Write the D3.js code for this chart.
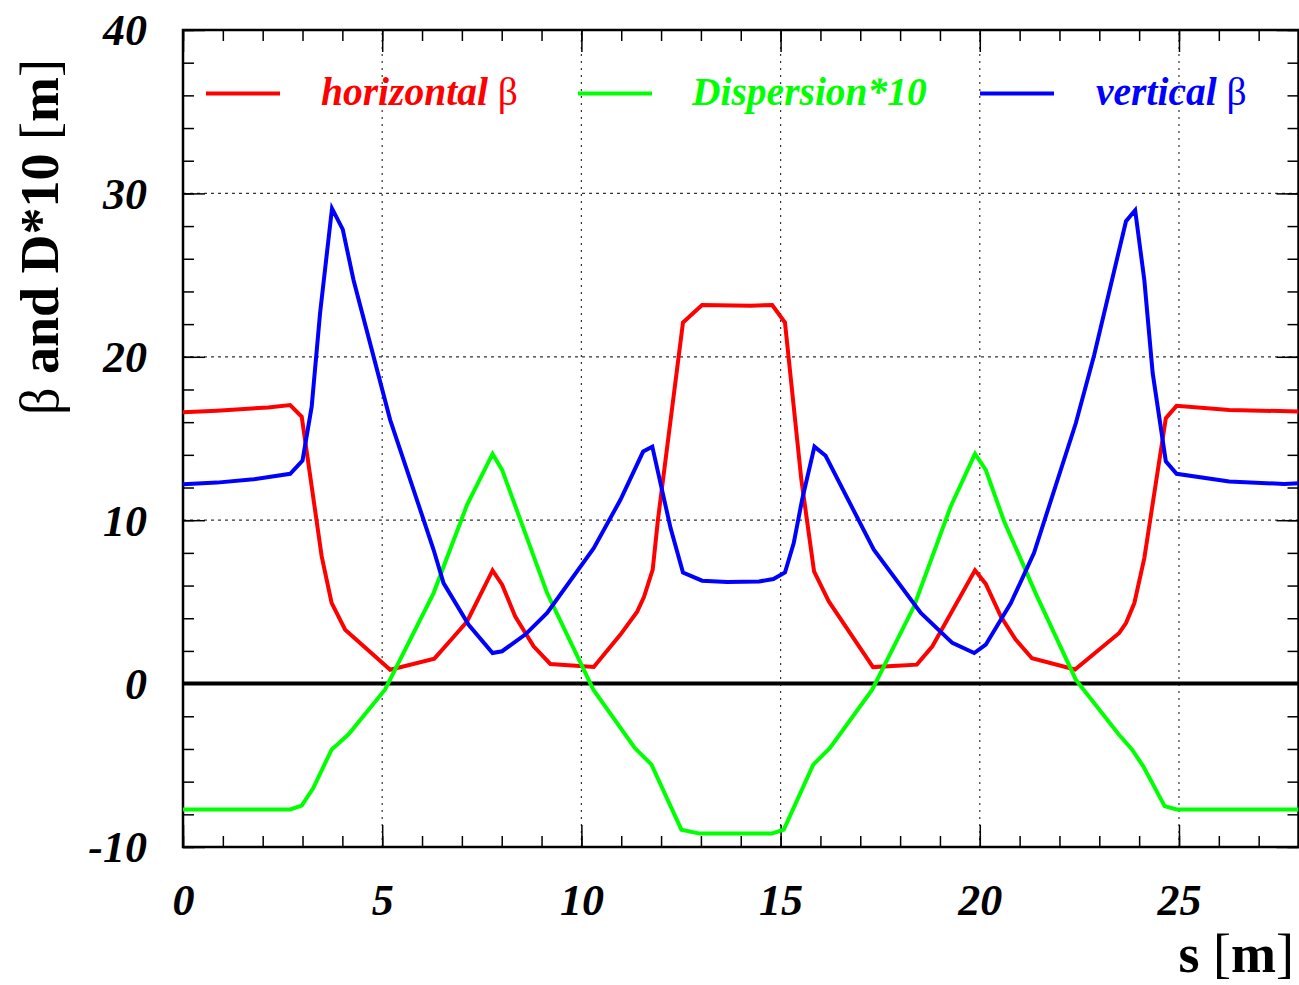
<!DOCTYPE html>
<html>
<head>
<meta charset="utf-8">
<script src="https://cdn.jsdelivr.net/npm/d3@7"></script>
<style>
  html, body { margin: 0; padding: 0; background: #fff; }
  svg { display: block; }
</style>
</head>
<body>
<svg id="chart" width="1299" height="985"></svg>
<script>
// ---------------- data ----------------
const sH = [0, 0.85, 2.14, 2.69, 2.98, 3.48, 3.73, 4.07, 5.2, 6.31, 6.79, 7.13, 7.77, 8.01, 8.34, 8.8, 9.22, 10.31, 10.98, 11.4, 11.57, 11.79, 11.92, 12.55, 13.03, 14.25, 14.79, 15.11, 15.52, 15.84, 16.21, 17.32, 18.42, 18.81, 19.88, 20.15, 20.53, 20.9, 21.31, 22.39, 23.5, 23.67, 23.88, 24.13, 24.67, 24.94, 26.26, 28.0];
const betaH = [16.6, 16.7, 16.9, 17.05, 16.33, 7.8, 4.94, 3.3, 0.85, 1.53, 2.85, 3.8, 6.93, 6.05, 4.1, 2.28, 1.2, 1.02, 3.0, 4.4, 5.3, 6.97, 10.0, 22.1, 23.17, 23.13, 23.17, 22.1, 12.5, 6.87, 5.03, 1.01, 1.16, 2.28, 6.93, 6.1, 4.1, 2.7, 1.55, 0.86, 3.1, 3.7, 4.93, 7.68, 16.24, 17.0, 16.75, 16.65];

const sV = [0, 0.85, 1.77, 2.69, 3.0, 3.23, 3.44, 3.74, 4.01, 4.28, 5.2, 6.29, 6.54, 7.17, 7.77, 8.01, 8.59, 9.14, 10.31, 10.98, 11.55, 11.78, 12.24, 12.55, 13.03, 13.66, 14.46, 14.82, 15.11, 15.33, 15.54, 15.85, 16.13, 17.34, 18.52, 19.31, 19.86, 20.15, 20.78, 21.07, 21.36, 22.41, 22.87, 23.67, 23.9, 24.13, 24.34, 24.67, 24.94, 26.26, 27.64, 28.0];
const betaV = [12.2, 12.3, 12.5, 12.84, 13.65, 16.95, 22.66, 29.08, 27.8, 24.7, 16.14, 8.19, 6.15, 3.6, 1.87, 1.98, 3.0, 4.32, 8.29, 11.25, 14.2, 14.5, 9.5, 6.8, 6.3, 6.22, 6.25, 6.4, 6.8, 8.6, 11.25, 14.5, 13.94, 8.19, 4.32, 2.49, 1.87, 2.38, 4.93, 6.46, 7.99, 15.93, 20.1, 28.3, 28.97, 24.7, 19.0, 13.6, 12.84, 12.37, 12.22, 12.26];

const sD = [0, 2.69, 2.98, 3.27, 3.73, 4.15, 5.07, 6.29, 7.13, 7.77, 8.01, 9.14, 10.18, 10.3, 11.34, 11.76, 12.51, 12.97, 14.78, 15.08, 15.82, 16.24, 17.3, 18.35, 19.27, 19.88, 20.15, 20.6, 21.4, 22.41, 23.49, 23.82, 24.1, 24.64, 24.94, 28.0];
const disp10 = [-7.7, -7.7, -7.47, -6.39, -4.04, -3.12, -0.37, 5.54, 10.94, 14.06, 13.08, 5.54, 0.24, -0.37, -3.94, -4.96, -8.94, -9.18, -9.18, -8.94, -4.96, -3.94, -0.37, 4.73, 10.84, 14.06, 13.08, 10.0, 5.54, 0.24, -3.12, -4.03, -5.05, -7.5, -7.7, -7.7];

const xMajorTicks = [0, 5, 10, 15, 20, 25];
const yMajorTicks = [-10, 0, 10, 20, 30, 40];
const xGridValues = [5, 10, 15, 20, 25];
const yGridValues = [10, 20, 30];

const seriesNames = ["horizontal", "Dispersion*10", "vertical"];
const seriesColors = ["#ff0000", "#00ff00", "#0000ff"];

// ---------------- layout ----------------
const svg = d3.select("#chart");
const X0 = 183, X1 = 1298.5, Y0 = 847, Y1 = 30;
const x = d3.scaleLinear().domain([0, 28]).range([X0, X1]);
const y = d3.scaleLinear().domain([-10, 40]).range([Y0, Y1]);
const serif = "'Liberation Serif', 'Times New Roman', serif";
const plainFmt = d => String(d);

svg.append("defs").append("clipPath").attr("id", "plotclip")
  .append("rect").attr("x", X0).attr("y", Y1).attr("width", X1 - X0).attr("height", Y0 - Y1);

// grid
const grid = svg.append("g");
grid.selectAll("line.vg").data(xGridValues).join("line")
  .attr("x1", d => x(d)).attr("x2", d => x(d))
  .attr("y1", Y0).attr("y2", Y1)
  .attr("stroke", "#333").attr("stroke-width", 1.2).attr("stroke-dasharray", "2,5");
grid.selectAll("line.hg").data(yGridValues).join("line")
  .attr("x1", X0).attr("x2", X1)
  .attr("y1", d => y(d)).attr("y2", d => y(d))
  .attr("stroke", "#333").attr("stroke-width", 1.2).attr("stroke-dasharray", "3,4");

// ticks via axes
function styleAxis(g) {
  g.select(".domain").remove();
  g.selectAll(".tick line").attr("stroke", "#000").attr("stroke-width", 1.5);
}
const xMinor = d3.range(0, 29, 1);
const yMinor = d3.range(-10, 41, 2);

svg.append("g").attr("transform", `translate(0,${Y0})`)
  .call(d3.axisBottom(x).tickValues(xMinor).tickSize(-11).tickFormat("")).call(styleAxis);
svg.append("g").attr("transform", `translate(0,${Y1})`)
  .call(d3.axisTop(x).tickValues(xMinor).tickSize(-11).tickFormat("")).call(styleAxis);
svg.append("g").attr("transform", `translate(${X0},0)`)
  .call(d3.axisLeft(y).tickValues(yMinor).tickSize(-11).tickFormat("")).call(styleAxis);
svg.append("g").attr("transform", `translate(${X1},0)`)
  .call(d3.axisRight(y).tickValues(yMinor).tickSize(-11).tickFormat("")).call(styleAxis);

const xAx = svg.append("g").attr("transform", `translate(0,${Y0})`)
  .call(d3.axisBottom(x).tickValues(xMajorTicks).tickSize(-22).tickFormat(plainFmt)).call(styleAxis);
xAx.selectAll(".tick text")
  .attr("y", 68).attr("dy", null)
  .attr("font-family", serif).attr("font-size", 44).attr("font-weight", "bold").attr("font-style", "italic")
  .attr("fill", "#000");
svg.append("g").attr("transform", `translate(0,${Y1})`)
  .call(d3.axisTop(x).tickValues(xMajorTicks).tickSize(-22).tickFormat("")).call(styleAxis);

const yAx = svg.append("g").attr("transform", `translate(${X0},0)`)
  .call(d3.axisLeft(y).tickValues(yMajorTicks).tickSize(-22).tickFormat(plainFmt)).call(styleAxis);
yAx.selectAll(".tick text")
  .attr("x", -36).attr("dy", "0.34em")
  .attr("font-family", serif).attr("font-size", 44).attr("font-weight", "bold").attr("font-style", "italic")
  .attr("fill", "#000");
svg.append("g").attr("transform", `translate(${X1},0)`)
  .call(d3.axisRight(y).tickValues(yMajorTicks).tickSize(-22).tickFormat("")).call(styleAxis);

// frame
svg.append("rect").attr("x", X0).attr("y", Y1).attr("width", X1 - X0).attr("height", Y0 - Y1)
  .attr("fill", "none").attr("stroke", "#000").attr("stroke-width", 2.5);

// zero line
svg.append("line").attr("x1", X0).attr("x2", X1).attr("y1", y(0)).attr("y2", y(0))
  .attr("stroke", "#000").attr("stroke-width", 4);

// curves
const line = d3.line().x(d => x(d[0])).y(d => y(d[1]));
const curves = [
  d3.zip(sH, betaH),
  d3.zip(sD, disp10),
  d3.zip(sV, betaV)
];
const cg = svg.append("g").attr("clip-path", "url(#plotclip)");
curves.forEach((c, i) => {
  cg.append("path").datum(c).attr("d", line)
    .attr("fill", "none").attr("stroke", seriesColors[i]).attr("stroke-width", 4)
    .attr("stroke-linejoin", "miter");
});

// legend
const legendX = [206, 578, 980];
const legendTextX = [321, 692, 1096];
const legendY = 93.5;
const lg = svg.append("g");
seriesNames.forEach((name, i) => {
  lg.append("line").attr("x1", legendX[i]).attr("x2", legendX[i] + 74)
    .attr("y1", legendY).attr("y2", legendY)
    .attr("stroke", seriesColors[i]).attr("stroke-width", 4);
  const t = lg.append("text").attr("x", legendTextX[i]).attr("y", 105)
    .attr("font-family", serif).attr("font-size", 39.5).attr("fill", seriesColors[i]);
  t.append("tspan").attr("font-weight", "bold").attr("font-style", "italic").text(name);
  if (i !== 1) {
    t.append("tspan").attr("font-weight", "normal").attr("font-style", "normal").text(" β");
  }
});

// axis titles
const yt = svg.append("text")
  .attr("transform", "translate(58,237) rotate(-90)")
  .attr("text-anchor", "middle")
  .attr("font-family", serif).attr("font-size", 54).attr("fill", "#000");
yt.append("tspan").attr("font-weight", "normal").text("β");
yt.append("tspan").attr("font-weight", "bold").text(" and D*10 ");
yt.append("tspan").attr("font-weight", "normal").text("[");
yt.append("tspan").attr("font-weight", "bold").text("m");
yt.append("tspan").attr("font-weight", "normal").text("]");

const xt = svg.append("text")
  .attr("x", 1294).attr("y", 972)
  .attr("text-anchor", "end")
  .attr("font-family", serif).attr("font-size", 54).attr("fill", "#000");
xt.append("tspan").attr("font-weight", "bold").text("s ");
xt.append("tspan").attr("font-weight", "normal").text("[");
xt.append("tspan").attr("font-weight", "bold").text("m");
xt.append("tspan").attr("font-weight", "normal").text("]");
</script>
</body>
</html>
